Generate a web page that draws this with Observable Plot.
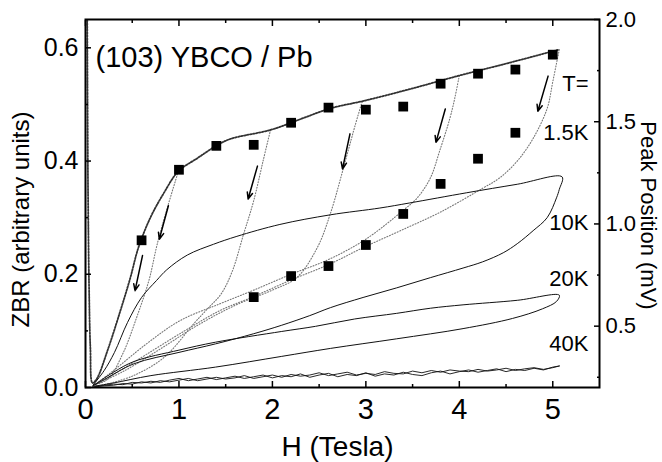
<!DOCTYPE html>
<html><head><meta charset="utf-8">
<script src="https://cdn.jsdelivr.net/npm/d3@7"></script>
<script src="https://cdn.jsdelivr.net/npm/@observablehq/plot@0.6"></script>
<style>body{margin:0;background:#fff;} #chart{width:662px;height:462px;}</style>
</head><body><div id="chart"></div>
<script>
// ---- 1.5K dotted curves: [H (Tesla), ZBR] ----
const envelope1p5K = [[0.018,0.68],[0.022,0.5],[0.028,0.33],[0.038,0.18],[0.052,0.07],[0.075,0.008],[0.12,0.015],[0.235,0.065],[0.374,0.136],[0.48,0.194],[0.566,0.247],[0.694,0.30],[0.833,0.342],[0.994,0.382],[1.197,0.405],[1.41,0.428],[1.55,0.439],[1.98,0.455],[2.3,0.474],[2.62,0.493],[2.97,0.506],[3.47,0.527],[4.0,0.551],[4.5,0.572],[5.07,0.597]];
const down1p0 = [[0.994,0.382],[0.88,0.32],[0.77,0.255],[0.68,0.19],[0.55,0.125],[0.4,0.06],[0.24,0.015],[0.1,0.005]];
const down2p0 = [[1.98,0.455],[1.9,0.40],[1.8,0.33],[1.69,0.27],[1.57,0.205],[1.45,0.165],[1.3,0.138],[1.16,0.113],[0.84,0.053],[0.5,0.02],[0.2,0.005]];
const down3p0 = [[2.96,0.505],[2.88,0.46],[2.80,0.412],[2.62,0.307],[2.48,0.247],[2.26,0.194],[2.0,0.172],[1.6,0.145],[1.2,0.11],[0.8,0.068],[0.4,0.028],[0.1,0.005]];
const down4p0 = [[4.0,0.551],[3.95,0.51],[3.9,0.476],[3.79,0.418],[3.69,0.37],[3.55,0.335],[3.4,0.313],[3.0,0.262],[2.6,0.226],[2.2,0.2],[1.8,0.172],[1.44,0.148],[1.01,0.118],[0.66,0.078],[0.3,0.03],[0.1,0.005]];
const down5p0 = [[5.07,0.597],[5.0,0.54],[4.94,0.493],[4.79,0.44],[4.62,0.40],[4.43,0.37],[4.25,0.352],[3.8,0.31],[3.37,0.277],[2.97,0.247],[2.6,0.217],[2.2,0.19],[1.79,0.16],[1.44,0.136],[1.06,0.1],[0.52,0.045],[0.25,0.018],[0.1,0.005]];

// ---- 10K and 20K loops (solid) ----
const loop10K = [[0.08,0.004],[0.2,0.03],[0.31,0.062],[0.45,0.115],[0.6,0.159],[0.76,0.189],[0.87,0.208],[1.09,0.234],[1.37,0.253],[1.62,0.267],[2.08,0.288],[2.62,0.305],[3.15,0.317],[3.47,0.326],[4.08,0.344],[4.62,0.359],[5.1,0.372],
  [5.07,0.35],[5.04,0.335],[4.94,0.30],[4.79,0.277],[4.62,0.254],[4.47,0.238],[4.25,0.222],[4.04,0.211],[3.69,0.194],[3.33,0.176],[2.97,0.159],[2.62,0.141],[2.4,0.127],[2.1,0.11],[1.8,0.095],[1.39,0.077],[1.0,0.062],[0.52,0.042],[0.2,0.014],[0.08,0.003]];
const loop20K = [[0.08,0.003],[0.3,0.027],[0.52,0.046],[1.0,0.066],[1.39,0.08],[2.1,0.099],[2.46,0.108],[2.88,0.121],[3.33,0.131],[3.69,0.14],[4.04,0.146],[4.62,0.154],[5.07,0.163],
  [5.04,0.152],[4.89,0.139],[4.57,0.122],[4.04,0.104],[3.33,0.086],[2.62,0.069],[2.1,0.055],[1.39,0.036],[0.7,0.021],[0.3,0.008],[0.08,0.002]];

// ---- 40K noisy traces ----
const h40 = [0.1,0.2,0.3,0.4,0.5,0.6,0.7,0.8,0.9,1.0,1.1,1.2,1.3,1.4,1.5,1.6,1.7,1.8,1.9,2.0,2.1,2.2,2.3,2.4,2.5,2.6,2.7,2.8,2.9,3.0,3.1,3.2,3.3,3.4,3.5,3.6,3.7,3.8,3.9,4.0,4.1,4.2,4.3,4.4,4.5,4.6,4.7,4.8,4.9,5.0,5.07];
const zbr40a = [0.002,0.004,0.006,0.005,0.009,0.008,0.011,0.009,0.013,0.016,0.012,0.015,0.018,0.014,0.017,0.020,0.016,0.019,0.022,0.017,0.021,0.019,0.024,0.018,0.022,0.025,0.019,0.023,0.021,0.026,0.020,0.024,0.022,0.027,0.023,0.021,0.026,0.029,0.024,0.028,0.031,0.027,0.030,0.033,0.028,0.032,0.030,0.034,0.031,0.036,0.038];
const zbr40b = [0.001,0.003,0.004,0.007,0.006,0.010,0.008,0.012,0.010,0.013,0.016,0.012,0.015,0.018,0.015,0.017,0.021,0.016,0.019,0.022,0.018,0.023,0.020,0.022,0.026,0.021,0.024,0.027,0.022,0.025,0.023,0.028,0.025,0.024,0.029,0.026,0.030,0.027,0.031,0.029,0.028,0.032,0.029,0.031,0.034,0.030,0.033,0.035,0.032,0.035,0.038];

// ---- Peak position squares (right axis, mV) ----
const peakUpperH  = [0.6,1.0,1.4,1.8,2.2,2.6,3.0,3.4,3.8,4.2,4.6,5.0];
const peakUpperMV = [0.92,1.265,1.382,1.387,1.495,1.569,1.559,1.574,1.686,1.735,1.755,1.828];
const peakLowerH  = [1.8,2.2,2.6,3.0,3.4,3.8,4.2,4.6];
const peakLowerMV = [0.642,0.745,0.794,0.897,1.049,1.196,1.319,1.446];

// ---- arrows (field sweep down) : [H1, Z1, H2, Z2] ----
const sweepArrows = [[0.887,0.321,0.79,0.262],[0.61,0.233,0.53,0.171],[1.84,0.391,1.74,0.333],[2.83,0.448,2.75,0.386],[3.85,0.492,3.75,0.433],[4.95,0.55,4.84,0.488]];

// ---- labels ----
const tempLabels = ["T=","1.5K","10K","20K","40K"];
const tempLabelZ = [0.537,0.449,0.291,0.192,0.0775];

// ---- axes ----
const xMajor = [0,1,2,3,4,5];
const xMinor = [0.5,1.5,2.5,3.5,4.5];
const zMajor = [0.0,0.2,0.4,0.6];
const zMinor = [0.1,0.3,0.5];
const peakMajor = [0.5,1.0,1.5,2.0];
const peakMinor = [0.25,0.75,1.25,1.75];
const zbrMax = 0.65, peakMin = 0.2, peakMax = 2.0;
const toZ = p => (p - peakMin) / (peakMax - peakMin) * zbrMax;
const fromZ = z => z / zbrMax * (peakMax - peakMin) + peakMin;

const dottedGray = {x: d => d[0], y: d => d[1], stroke: "#777", strokeWidth: 1.1, strokeDasharray: "1,1.8", curve: "catmull-rom", clip: true};
const solid = {x: d => d[0], y: d => d[1], stroke: "#111", strokeWidth: 1, curve: "catmull-rom", clip: true};
const noOp = () => "";

const chart = Plot.plot({
  width: 662, height: 462,
  marginLeft: 85, marginRight: 63, marginTop: 19, marginBottom: 75,
  x: {domain: [0, 5.5], axis: null},
  y: {domain: [0, zbrMax], axis: null},
  style: {fontFamily: "'Liberation Sans', Arial, Helvetica, sans-serif", color: "black", background: "white"},
  marks: [
    Plot.line(down1p0, dottedGray),
    Plot.line(down2p0, dottedGray),
    Plot.line(down3p0, dottedGray),
    Plot.line(down4p0, dottedGray),
    Plot.line(down5p0, dottedGray),
    Plot.line(envelope1p5K, {x: d => d[0], y: d => d[1], stroke: "#333", strokeWidth: 1.8, strokeDasharray: "1.5,1.5", curve: "catmull-rom", clip: true}),
    Plot.line(loop10K, solid),
    Plot.line(loop20K, solid),
    Plot.line(h40, {x: d => d, y: (d, i) => zbr40a[i], stroke: "#111", strokeWidth: 0.9, clip: true}),
    Plot.line(h40, {x: d => d, y: (d, i) => zbr40b[i], stroke: "#111", strokeWidth: 0.9, clip: true}),
    Plot.dot(peakUpperH, {x: d => d, y: (d, i) => toZ(peakUpperMV[i]), symbol: "square", r: 5.5, fill: "black"}),
    Plot.dot(peakLowerH, {x: d => d, y: (d, i) => toZ(peakLowerMV[i]), symbol: "square", r: 5.5, fill: "black"}),
    Plot.arrow(sweepArrows, {x1: d => d[0], y1: d => d[1], x2: d => d[2], y2: d => d[3], stroke: "black", strokeWidth: 1.5, headLength: 7, headAngle: 45}),
    Plot.frame({strokeWidth: 2}),
    Plot.axisX(xMajor, {anchor: "bottom", tickSize: -6, tickPadding: 17, fontSize: 29, label: null, strokeWidth: 1.5}),
    Plot.axisX(xMinor, {anchor: "bottom", tickSize: -3, tickFormat: noOp, label: null, strokeWidth: 1.5}),
    Plot.axisX(xMajor, {anchor: "top", tickSize: -6, tickFormat: noOp, label: null, strokeWidth: 1.5}),
    Plot.axisX(xMinor, {anchor: "top", tickSize: -3, tickFormat: noOp, label: null, strokeWidth: 1.5}),
    Plot.axisY(zMajor, {anchor: "left", tickSize: -6, tickPadding: 13, fontSize: 25, tickFormat: d => d.toFixed(1), label: null, strokeWidth: 1.5}),
    Plot.axisY(zMinor, {anchor: "left", tickSize: -3, tickFormat: noOp, label: null, strokeWidth: 1.5}),
    Plot.axisY(peakMajor.map(toZ), {anchor: "right", tickSize: -6, tickPadding: 12, fontSize: 22, tickFormat: z => fromZ(z).toFixed(1), label: null, strokeWidth: 1.5}),
    Plot.axisY(peakMinor.map(toZ), {anchor: "right", tickSize: -3, tickFormat: noOp, label: null, strokeWidth: 1.5}),
    Plot.text(tempLabels, {x: 5.5, y: (d, i) => tempLabelZ[i], text: d => d, dx: -11, textAnchor: "end", lineAnchor: "middle", fontSize: 22}),
    Plot.text(["(103) YBCO / Pb"], {frameAnchor: "top-left", text: d => d, dx: 10, dy: 38, textAnchor: "start", lineAnchor: "middle", fontSize: 29}),
    Plot.text(["H (Tesla)"], {frameAnchor: "bottom", text: d => d, dx: -5, dy: 60, textAnchor: "middle", lineAnchor: "middle", fontSize: 28}),
    Plot.text(["ZBR (arbitrary units)"], {frameAnchor: "left", text: d => d, dx: -64, dy: 16, rotate: -90, textAnchor: "middle", lineAnchor: "middle", fontSize: 24}),
    Plot.text(["Peak Position (mV)"], {frameAnchor: "right", text: d => d, dx: 49, dy: 12, rotate: 90, textAnchor: "middle", lineAnchor: "middle", fontSize: 22})
  ]
});
document.getElementById("chart").append(chart);
</script>
</body></html>
